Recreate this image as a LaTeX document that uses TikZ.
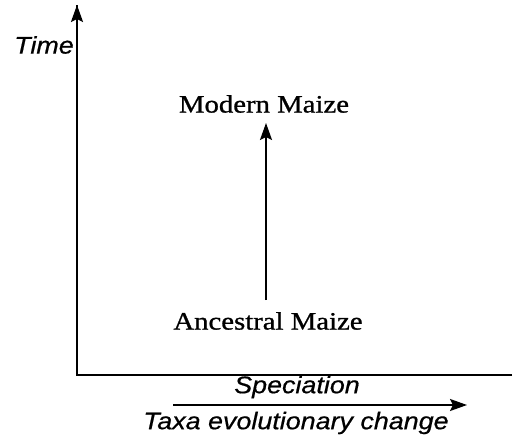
\documentclass[tikz,border=0pt]{standalone}
\usepackage{fontspec}
\setmainfont{Liberation Serif}
\newfontfamily\axisfont[FakeStretch=1.12,FakeBold=0.6]{Liberation Sans}
\newfontfamily\labelfont[FakeStretch=1.15,FakeBold=1.0]{Liberation Serif}
\usetikzlibrary{arrows.meta}
\tikzset{
  axis/.style={line width=2.2pt},
  arr/.style={line width=2pt,-{Stealth[length=17pt,width=12pt,inset=3pt]}},
  axlabel/.style={font=\axisfont\itshape\fontsize{24}{28}\selectfont, inner sep=0pt},
  maize/.style={font=\labelfont\fontsize{25}{29}\selectfont, inner sep=0pt}
}
\begin{document}
\begin{tikzpicture}[x=1pt,y=1pt]
\useasboundingbox (0,0) rectangle (520,440);
\coordinate (origin) at (77,65);
\coordinate (ytop) at (77,435);
\coordinate (xend) at (512,65);
\draw[axis] (xend) -- (origin) -- (ytop);
\draw[arr,line width=2.2pt] (77,410) -- (ytop);
\node[axlabel] (time) at (44,395) {Time};
\node[maize] (modern) at (264,336) {Modern Maize};
\node[maize] (ancestral) at (268,119) {Ancestral Maize};
\draw[arr] ([xshift=2pt,yshift=12pt]ancestral.north -| modern.south) -- ([xshift=2pt,yshift=-10pt]modern.south);
\node[axlabel] (spec) at (297,53) {Speciation};
\coordinate (s0) at (173,35);
\coordinate (s1) at (467,35);
\draw[arr] (s0) -- (s1);
\node[axlabel] (taxa) at (296,17) {Taxa evolutionary change};
\end{tikzpicture}
\end{document}
